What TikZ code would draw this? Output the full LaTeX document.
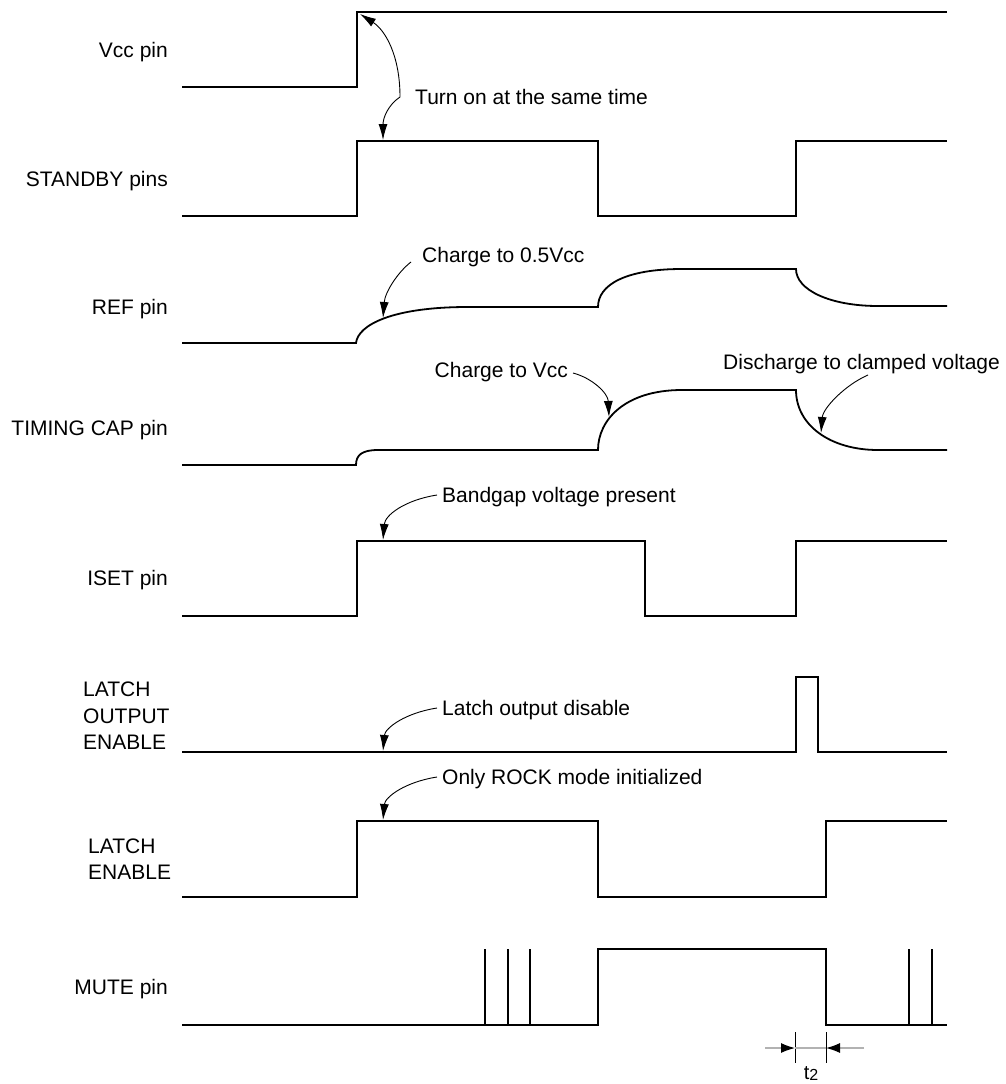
\documentclass[tikz,border=0pt]{standalone}
\usepackage{fontspec}
\setmainfont{Liberation Sans}
\usetikzlibrary{arrows.meta}

\tikzset{
  wave/.style={line width=1.8pt, line join=miter},
  note/.style={line width=0.9pt},
  lbl/.style={inner sep=0pt, text height=15pt, text depth=0pt, font=\fontsize{21}{26.5}\selectfont},
  lblm/.style={inner sep=0pt, align=left, font=\fontsize{21}{26.5}\selectfont},
}

\begin{document}
\begin{tikzpicture}[x=1pt, y=-1pt, >={Latex[length=16pt,width=9pt]}]
\useasboundingbox (0,0) rectangle (1005,1084);

% signal names (left)
\node[lbl, anchor=east] (vccpin) at (168,50) {Vcc pin};
\node[lbl, anchor=east] (stbypin) at (168,179) {STANDBY pins};
\node[lbl, anchor=east] (refpin) at (168,307) {REF pin};
\node[lbl, anchor=east] (cappin) at (168,428) {TIMING CAP pin};
\node[lbl, anchor=east] (isetpin) at (168,578) {ISET pin};
\node[lblm, anchor=west] (loepin) at (83,716) {LATCH\\OUTPUT\\ENABLE};
\node[lblm, anchor=west] (lepin) at (88,859) {LATCH\\ENABLE};
\node[lbl, anchor=east] (mutepin) at (168,987) {MUTE pin};

% waveforms
\draw[wave] (182,87) -- (357,87) -- (357,12) -- (947,12);
\draw[wave] (182,216) -- (357,216) -- (357,141) -- (598,141) -- (598,216) -- (796,216) -- (796,141) -- (947,141);
\draw[wave] (182,343) -- (356,343) .. controls (358,325) and (392,307) .. (468,307) -- (598,307)
  .. controls (598,285) and (625,269) .. (682,269) -- (796,269)
  .. controls (796,290) and (830,306) .. (878,306) -- (947,306);
\draw[wave] (182,465) -- (356,465) .. controls (356,455) and (362,450) .. (378,450) -- (598,450)
  .. controls (598,420) and (625,390) .. (682,390) -- (796,390)
  .. controls (796,425) and (830,450) .. (878,450) -- (947,450);
\draw[wave] (182,616) -- (357,616) -- (357,541) -- (645,541) -- (645,616) -- (796,616) -- (796,541) -- (947,541);
\draw[wave] (182,752) -- (796,752) -- (796,677) -- (818,677) -- (818,752) -- (947,752);
\draw[wave] (182,897) -- (357,897) -- (357,821) -- (598,821) -- (598,897) -- (826,897) -- (826,821) -- (947,821);
\draw[wave] (182,1025) -- (598,1025) -- (598,949) -- (826,949) -- (826,1025) -- (947,1025);
\foreach \x in {485,508,530,909,932}
  \draw[wave] (\x,1025) -- (\x,949);

% notes
\node[lbl, anchor=west] (turnon) at (415,97) {Turn on at the same time};
\node[lbl, anchor=west] (halfref) at (422,255) {Charge to 0.5Vcc};
\node[lbl, anchor=east] (fullcap) at (568,370) {Charge to Vcc};
\node[lbl, anchor=west] (clamp) at (723,362) {Discharge to clamped voltage};
\node[lbl, anchor=west] (bandgap) at (442,495) {Bandgap voltage present};
\node[lbl, anchor=west] (disable) at (442,708) {Latch output disable};
\node[lbl, anchor=west] (rock) at (442,777) {Only ROCK mode initialized};

\coordinate (vcchigh) at (360,14);
\coordinate (stbyhigh) at (383,140);
\coordinate (refrise) at (383,318);
\coordinate (caprise) at (609,417);
\coordinate (capfall) at (821,433);
\coordinate (isethigh) at (383,540);
\coordinate (loelow) at (383,751);
\coordinate (lehigh) at (383,820);

\draw[<->, note] (vcchigh) .. controls (385,30) and (400,55) .. ([xshift=-15pt]turnon.west)
  .. controls (388,105) and (383,118) .. (stbyhigh);
\draw[->, note] ([xshift=-11pt,yshift=-7pt]halfref.west) .. controls (398,272) and (385,292) .. (refrise);
\draw[->, note] ([xshift=5pt,yshift=-3pt]fullcap.east) .. controls (592,378) and (608,393) .. (caprise);
\draw[->, note] ([xshift=145pt,yshift=-13pt]clamp.west) .. controls (845,385) and (823,408) .. (capfall);
\draw[->, note] ([xshift=-5pt]bandgap.west) .. controls (405,500) and (385,515) .. (isethigh);
\draw[->, note] ([xshift=-5pt]disable.west) .. controls (405,713) and (385,728) .. (loelow);
\draw[->, note] ([xshift=-5pt]rock.west) .. controls (405,782) and (385,797) .. (lehigh);

% t2
\coordinate (t2a) at (795,1048);
\coordinate (t2b) at (826,1048);
\draw[note] (795,1032) -- (795,1063);
\draw[note] (826,1032) -- (826,1063);
\draw[gray!60, line width=1.2pt, -{Latex[length=14pt,width=10pt,color=black]}] (765,1048) -- (t2a);
\draw[gray!60, line width=1.2pt, -{Latex[length=14pt,width=10pt,color=black]}] (864,1048) -- (t2b);
\draw[gray!60, line width=1.2pt] (t2a) -- (t2b);
\node[inner sep=0pt, anchor=base, font=\fontsize{20}{20}\selectfont] (t2) at (811,1079)
  {t\raisebox{-1.5pt}{\fontsize{16}{16}\selectfont 2}};
\end{tikzpicture}
\end{document}
